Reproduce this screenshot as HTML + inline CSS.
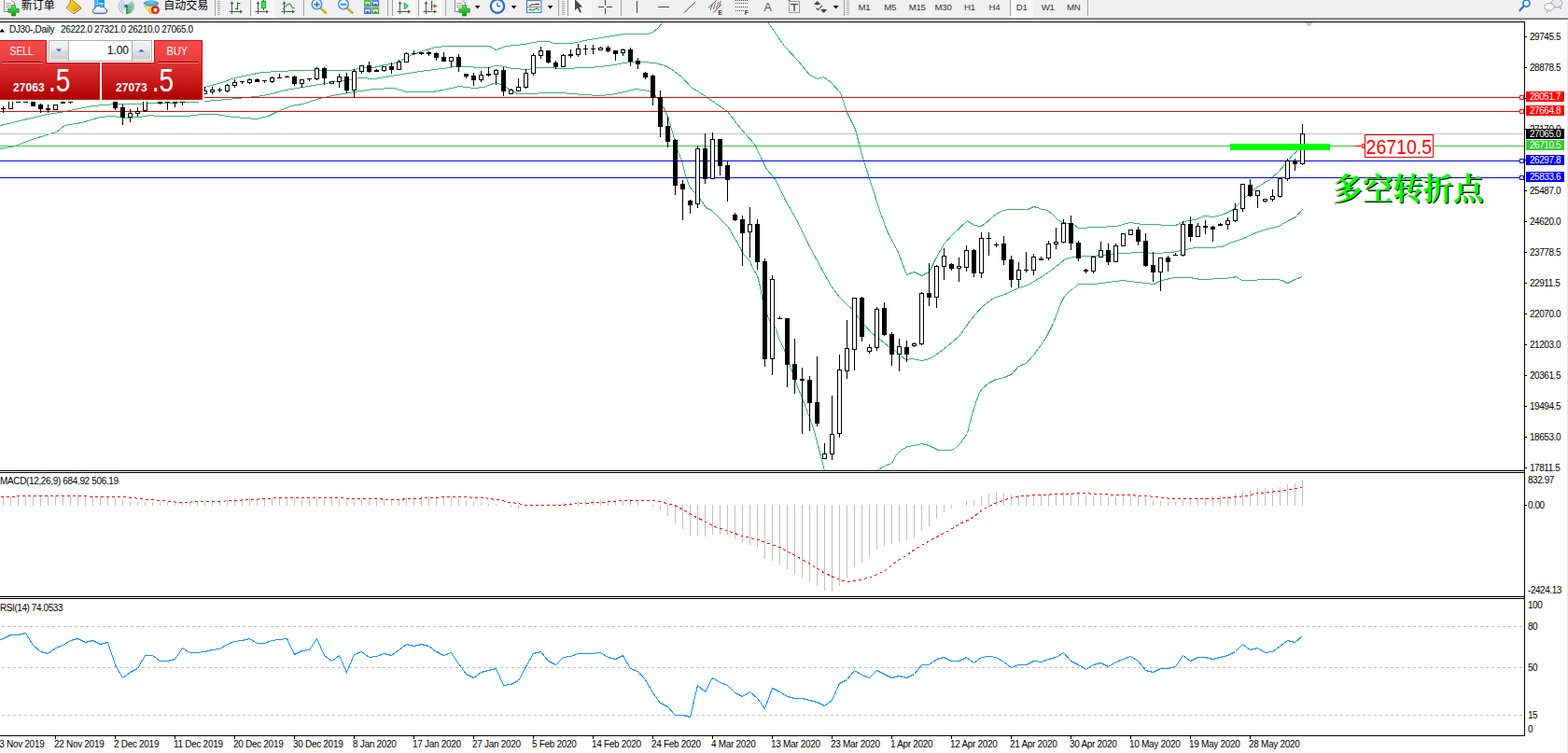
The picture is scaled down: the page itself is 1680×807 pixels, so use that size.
<!DOCTYPE html>
<html><head><meta charset="utf-8"><title>DJ30 Daily</title>
<style>
html,body{margin:0;padding:0;background:#fff;}
body{width:1680px;height:807px;overflow:hidden;position:relative;font-family:"Liberation Sans",sans-serif;}
svg text{font-family:"Liberation Sans",sans-serif;}
</style></head><body>
<svg width="1680" height="807" viewBox="0 0 1680 807" font-family="Liberation Sans, sans-serif" style="position:absolute;left:0;top:0">
<rect x="0" y="0" width="1680" height="807" fill="#fff"/>
<g shape-rendering="crispEdges">
<clipPath id="cm"><rect x="0" y="24" width="1633" height="480"/></clipPath>
<g clip-path="url(#cm)">
<polyline points="219.5,93.5 237.5,88.5 251.5,83.5 266.5,80.5 280.5,77.5 299.5,76.5 319.5,75.5 336.5,75.5 351.5,75.5 373.5,75.5 380.5,74.5 386.5,72.5 400.5,72.5 412.5,69.5 425.5,67.5 437.5,60.5 450.5,55.5 466.5,50.5 480.5,49.5 499.5,49.5 524.5,49.5 531.5,53.5 542.5,49.5 561.5,47.5 577.5,44.5 588.5,44.5 593.5,46.5 600.5,46.5 612.5,46.5 631.5,42.5 650.5,39.5 668.5,36.5 693.5,36.5 699.5,34.5 704.5,30.5 710.5,23.5" fill="none" stroke="#3cb371" stroke-width="1"/>
<polyline points="822.5,23.5 840.5,49.5 855.5,65.5 867.5,80.5 876.5,84.5 882.5,82.5 890.5,88.5 900.5,99.5 907.5,120.5 916.5,138.5 921.5,158.5 925.5,172.5 934.5,200.5 942.5,225.5 950.5,247.5 962.5,270.5 966.5,281.5 971.5,294.5 979.5,291.5 987.5,295.5 995.5,291.5 1002.5,277.5 1011.5,261.5 1020.5,251.5 1036.5,236.5 1043.5,241.5 1050.5,242.5 1054.5,240.5 1062.5,233.5 1068.5,228.5 1075.5,225.5 1080.5,224.5 1094.5,224.5 1101.5,224.5 1107.5,221.5 1111.5,222.5 1116.5,224.5 1122.5,225.5 1127.5,229.5 1133.5,235.5 1138.5,238.5 1144.5,239.5 1150.5,240.5 1155.5,244.5 1175.5,243.5 1196.5,242.5 1210.5,238.5 1224.5,240.5 1237.5,240.5 1249.5,241.5 1259.5,241.5 1268.5,237.5 1280.5,235.5 1290.5,231.5 1300.5,232.5 1311.5,229.5 1321.5,224.5 1331.5,214.5 1341.5,204.5 1350.5,198.5 1360.5,192.5 1369.5,184.5 1377.5,175.5 1384.5,166.5 1390.5,161.5 1395.5,157.5" fill="none" stroke="#3cb371" stroke-width="1"/>
<polyline points="0.5,134.5 25.5,128.5 50.5,122.5 64.5,120.5 74.5,118.5 99.5,113.5 112.5,112.5 124.5,111.5 149.5,111.5 161.5,110.5 180.5,110.5 200.5,109.5 207.5,109.5 219.5,108.5 254.5,105.5 263.5,104.5 274.5,103.5 287.5,101.5 305.5,96.5 324.5,93.5 336.5,91.5 348.5,89.5 361.5,87.5 374.5,85.5 386.5,83.5 400.5,84.5 425.5,80.5 450.5,76.5 474.5,73.5 487.5,71.5 524.5,72.5 530.5,70.5 535.5,70.5 549.5,73.5 565.5,74.5 576.5,72.5 586.5,72.5 600.5,73.5 631.5,72.5 652.5,70.5 674.5,66.5 687.5,66.5 702.5,67.5 712.5,70.5 718.5,73.5 730.5,82.5 740.5,93.5 756.5,103.5 766.5,110.5 779.5,119.5 789.5,132.5 798.5,143.5 808.5,154.5 810.5,158.5 816.5,171.5 821.5,181.5 829.5,190.5 834.5,199.5 841.5,214.5 854.5,237.5 866.5,262.5 880.5,288.5 890.5,306.5 899.5,318.5 909.5,328.5 913.5,331.5 920.5,341.5 926.5,348.5 934.5,357.5 942.5,363.5 952.5,371.5 959.5,376.5 965.5,381.5 970.5,385.5 977.5,384.5 987.5,386.5 996.5,384.5 1002.5,380.5 1014.5,371.5 1027.5,360.5 1039.5,343.5 1052.5,328.5 1064.5,319.5 1076.5,315.5 1089.5,309.5 1101.5,305.5 1106.5,302.5 1119.5,294.5 1130.5,286.5 1141.5,277.5 1150.5,275.5 1160.5,274.5 1169.5,274.5 1181.5,273.5 1200.5,271.5 1224.5,270.5 1237.5,271.5 1255.5,270.5 1265.5,268.5 1280.5,265.5 1296.5,265.5 1309.5,264.5 1320.5,259.5 1332.5,255.5 1345.5,249.5 1357.5,245.5 1370.5,242.5 1373.5,240.5 1382.5,235.5 1388.5,232.5 1395.5,224.5" fill="none" stroke="#3cb371" stroke-width="1"/>
<polyline points="0.5,159.5 16.5,156.5 31.5,150.5 50.5,144.5 60.5,141.5 69.5,134.5 87.5,131.5 107.5,125.5 119.5,124.5 136.5,126.5 149.5,125.5 161.5,123.5 168.5,124.5 186.5,124.5 200.5,124.5 216.5,122.5 231.5,122.5 250.5,125.5 274.5,127.5 287.5,124.5 297.5,119.5 312.5,113.5 324.5,111.5 342.5,105.5 361.5,101.5 374.5,99.5 386.5,97.5 400.5,95.5 422.5,94.5 435.5,98.5 450.5,98.5 462.5,98.5 474.5,96.5 492.5,92.5 507.5,94.5 518.5,93.5 531.5,88.5 540.5,92.5 548.5,97.5 554.5,100.5 600.5,99.5 625.5,101.5 641.5,102.5 654.5,101.5 669.5,98.5 680.5,95.5 689.5,96.5 698.5,98.5 704.5,105.5 710.5,114.5 715.5,124.5 717.5,131.5 721.5,145.5 726.5,162.5 730.5,172.5 734.5,187.5 738.5,199.5 741.5,203.5 745.5,207.5 751.5,215.5 756.5,222.5 762.5,225.5 772.5,235.5 780.5,243.5 785.5,252.5 792.5,264.5 796.5,272.5 803.5,279.5 806.5,287.5 811.5,295.5 814.5,307.5 817.5,323.5 823.5,341.5 830.5,350.5 834.5,362.5 841.5,377.5 846.5,392.5 851.5,405.5 854.5,414.5 859.5,426.5 867.5,447.5 872.5,462.5 876.5,477.5 879.5,489.5 883.5,504.5" fill="none" stroke="#3cb371" stroke-width="1"/>
<polyline points="939.5,504.5 947.5,499.5 955.5,496.5 960.5,487.5 965.5,482.5 972.5,478.5 980.5,477.5 987.5,475.5 995.5,477.5 1001.5,480.5 1005.5,482.5 1012.5,482.5 1018.5,482.5 1023.5,480.5 1029.5,474.5 1036.5,464.5 1039.5,451.5 1044.5,434.5 1049.5,420.5 1052.5,416.5 1059.5,410.5 1067.5,406.5 1076.5,404.5 1084.5,400.5 1091.5,392.5 1099.5,389.5 1107.5,380.5 1120.5,362.5 1128.5,346.5 1136.5,325.5 1140.5,317.5 1147.5,310.5 1150.5,309.5 1155.5,304.5 1172.5,304.5 1187.5,302.5 1202.5,300.5 1219.5,302.5 1236.5,304.5 1244.5,300.5 1258.5,297.5 1274.5,297.5 1286.5,299.5 1311.5,298.5 1320.5,297.5 1324.5,296.5 1330.5,300.5 1336.5,300.5 1342.5,300.5 1351.5,299.5 1367.5,299.5 1373.5,300.5 1379.5,303.5 1387.5,299.5 1395.5,296.5" fill="none" stroke="#3cb371" stroke-width="1"/>
</g>
<rect x="0" y="104" width="1633" height="1" fill="#ff0000"/>
<rect x="0" y="119" width="1633" height="1" fill="#ff0000"/>
<rect x="0" y="143" width="1633" height="1" fill="#c0c0c0"/>
<rect x="0" y="156" width="1633" height="1" fill="#32cd32"/>
<rect x="0" y="172" width="1633" height="1" fill="#0000ff"/>
<rect x="0" y="190" width="1633" height="1" fill="#0000ff"/>
<g clip-path="url(#cm)">
<rect x="3" y="114" width="1" height="7" fill="#000"/>
<rect x="1" y="116" width="5" height="1" fill="#000"/>
<rect x="11" y="100" width="1" height="17" fill="#000"/>
<rect x="9" y="100" width="5" height="17" fill="#000"/>
<rect x="10" y="101" width="3" height="15" fill="#fff"/>
<rect x="19" y="100" width="1" height="10" fill="#000"/>
<rect x="17" y="109" width="5" height="1" fill="#000"/>
<rect x="27" y="100" width="1" height="10" fill="#000"/>
<rect x="25" y="109" width="5" height="1" fill="#000"/>
<rect x="35" y="100" width="1" height="14" fill="#000"/>
<rect x="33" y="100" width="5" height="14" fill="#000"/>
<rect x="43" y="111" width="1" height="10" fill="#000"/>
<rect x="41" y="112" width="5" height="5" fill="#000"/>
<rect x="51" y="112" width="1" height="9" fill="#000"/>
<rect x="49" y="116" width="5" height="2" fill="#000"/>
<rect x="59" y="112" width="1" height="6" fill="#000"/>
<rect x="57" y="112" width="5" height="6" fill="#000"/>
<rect x="58" y="113" width="3" height="4" fill="#fff"/>
<rect x="67" y="100" width="1" height="11" fill="#000"/>
<rect x="65" y="109" width="5" height="2" fill="#000"/>
<rect x="75" y="100" width="1" height="11" fill="#000"/>
<rect x="73" y="109" width="5" height="1" fill="#000"/>
<rect x="123" y="100" width="1" height="18" fill="#000"/>
<rect x="121" y="100" width="5" height="16" fill="#000"/>
<rect x="131" y="112" width="1" height="22" fill="#000"/>
<rect x="129" y="115" width="5" height="11" fill="#000"/>
<rect x="139" y="117" width="1" height="14" fill="#000"/>
<rect x="137" y="121" width="5" height="5" fill="#000"/>
<rect x="138" y="122" width="3" height="3" fill="#fff"/>
<rect x="147" y="115" width="1" height="10" fill="#000"/>
<rect x="145" y="119" width="5" height="3" fill="#000"/>
<rect x="146" y="120" width="3" height="1" fill="#fff"/>
<rect x="155" y="100" width="1" height="20" fill="#000"/>
<rect x="153" y="100" width="5" height="19" fill="#000"/>
<rect x="154" y="101" width="3" height="17" fill="#fff"/>
<rect x="171" y="100" width="1" height="12" fill="#000"/>
<rect x="169" y="109" width="5" height="2" fill="#000"/>
<rect x="179" y="100" width="1" height="18" fill="#000"/>
<rect x="177" y="109" width="5" height="1" fill="#000"/>
<rect x="187" y="100" width="1" height="15" fill="#000"/>
<rect x="185" y="109" width="5" height="2" fill="#000"/>
<rect x="195" y="100" width="1" height="13" fill="#000"/>
<rect x="193" y="109" width="5" height="1" fill="#000"/>
<rect x="219" y="93" width="1" height="8" fill="#000"/>
<rect x="217" y="97" width="5" height="4" fill="#000"/>
<rect x="218" y="98" width="3" height="2" fill="#fff"/>
<rect x="227" y="93" width="1" height="8" fill="#000"/>
<rect x="225" y="96" width="5" height="3" fill="#000"/>
<rect x="226" y="97" width="3" height="1" fill="#fff"/>
<rect x="235" y="94" width="1" height="5" fill="#000"/>
<rect x="233" y="96" width="5" height="1" fill="#000"/>
<rect x="243" y="90" width="1" height="9" fill="#000"/>
<rect x="241" y="91" width="5" height="7" fill="#000"/>
<rect x="242" y="92" width="3" height="5" fill="#fff"/>
<rect x="251" y="85" width="1" height="9" fill="#000"/>
<rect x="249" y="88" width="5" height="4" fill="#000"/>
<rect x="250" y="89" width="3" height="2" fill="#fff"/>
<rect x="259" y="87" width="1" height="3" fill="#000"/>
<rect x="257" y="87" width="5" height="1" fill="#000"/>
<rect x="267" y="84" width="1" height="6" fill="#000"/>
<rect x="265" y="85" width="5" height="4" fill="#000"/>
<rect x="266" y="86" width="3" height="2" fill="#fff"/>
<rect x="275" y="84" width="1" height="4" fill="#000"/>
<rect x="273" y="85" width="5" height="3" fill="#000"/>
<rect x="283" y="86" width="1" height="3" fill="#000"/>
<rect x="281" y="86" width="5" height="1" fill="#000"/>
<rect x="291" y="82" width="1" height="7" fill="#000"/>
<rect x="289" y="83" width="5" height="5" fill="#000"/>
<rect x="290" y="84" width="3" height="3" fill="#fff"/>
<rect x="299" y="79" width="1" height="5" fill="#000"/>
<rect x="297" y="83" width="5" height="1" fill="#000"/>
<rect x="307" y="81" width="1" height="2" fill="#000"/>
<rect x="305" y="82" width="5" height="1" fill="#000"/>
<rect x="315" y="81" width="1" height="11" fill="#000"/>
<rect x="313" y="82" width="5" height="8" fill="#000"/>
<rect x="323" y="85" width="1" height="9" fill="#000"/>
<rect x="321" y="85" width="5" height="5" fill="#000"/>
<rect x="322" y="86" width="3" height="3" fill="#fff"/>
<rect x="331" y="84" width="1" height="3" fill="#000"/>
<rect x="329" y="84" width="5" height="1" fill="#000"/>
<rect x="339" y="72" width="1" height="14" fill="#000"/>
<rect x="337" y="73" width="5" height="12" fill="#000"/>
<rect x="338" y="74" width="3" height="10" fill="#fff"/>
<rect x="347" y="72" width="1" height="19" fill="#000"/>
<rect x="345" y="73" width="5" height="11" fill="#000"/>
<rect x="355" y="87" width="1" height="3" fill="#000"/>
<rect x="353" y="87" width="5" height="3" fill="#000"/>
<rect x="354" y="88" width="3" height="1" fill="#fff"/>
<rect x="363" y="79" width="1" height="15" fill="#000"/>
<rect x="361" y="82" width="5" height="6" fill="#000"/>
<rect x="362" y="83" width="3" height="4" fill="#fff"/>
<rect x="371" y="78" width="1" height="22" fill="#000"/>
<rect x="369" y="82" width="5" height="15" fill="#000"/>
<rect x="379" y="74" width="1" height="31" fill="#000"/>
<rect x="377" y="76" width="5" height="21" fill="#000"/>
<rect x="378" y="77" width="3" height="19" fill="#fff"/>
<rect x="387" y="70" width="1" height="9" fill="#000"/>
<rect x="385" y="70" width="5" height="7" fill="#000"/>
<rect x="386" y="71" width="3" height="5" fill="#fff"/>
<rect x="395" y="66" width="1" height="12" fill="#000"/>
<rect x="393" y="70" width="5" height="7" fill="#000"/>
<rect x="403" y="74" width="1" height="3" fill="#000"/>
<rect x="401" y="75" width="5" height="2" fill="#000"/>
<rect x="411" y="71" width="1" height="6" fill="#000"/>
<rect x="409" y="71" width="5" height="5" fill="#000"/>
<rect x="410" y="72" width="3" height="3" fill="#fff"/>
<rect x="419" y="67" width="1" height="12" fill="#000"/>
<rect x="417" y="71" width="5" height="4" fill="#000"/>
<rect x="427" y="64" width="1" height="11" fill="#000"/>
<rect x="425" y="66" width="5" height="9" fill="#000"/>
<rect x="426" y="67" width="3" height="7" fill="#fff"/>
<rect x="435" y="56" width="1" height="11" fill="#000"/>
<rect x="433" y="57" width="5" height="10" fill="#000"/>
<rect x="434" y="58" width="3" height="8" fill="#fff"/>
<rect x="443" y="54" width="1" height="5" fill="#000"/>
<rect x="441" y="57" width="5" height="1" fill="#000"/>
<rect x="451" y="56" width="1" height="3" fill="#000"/>
<rect x="449" y="56" width="5" height="2" fill="#000"/>
<rect x="459" y="55" width="1" height="5" fill="#000"/>
<rect x="457" y="56" width="5" height="2" fill="#000"/>
<rect x="467" y="56" width="1" height="9" fill="#000"/>
<rect x="465" y="57" width="5" height="5" fill="#000"/>
<rect x="475" y="56" width="1" height="10" fill="#000"/>
<rect x="473" y="61" width="5" height="5" fill="#000"/>
<rect x="483" y="61" width="1" height="11" fill="#000"/>
<rect x="481" y="61" width="5" height="5" fill="#000"/>
<rect x="482" y="62" width="3" height="3" fill="#fff"/>
<rect x="491" y="58" width="1" height="19" fill="#000"/>
<rect x="489" y="61" width="5" height="11" fill="#000"/>
<rect x="499" y="79" width="1" height="5" fill="#000"/>
<rect x="497" y="79" width="5" height="3" fill="#000"/>
<rect x="507" y="78" width="1" height="14" fill="#000"/>
<rect x="505" y="81" width="5" height="5" fill="#000"/>
<rect x="515" y="76" width="1" height="12" fill="#000"/>
<rect x="513" y="80" width="5" height="6" fill="#000"/>
<rect x="514" y="81" width="3" height="4" fill="#fff"/>
<rect x="523" y="72" width="1" height="10" fill="#000"/>
<rect x="521" y="79" width="5" height="2" fill="#000"/>
<rect x="531" y="74" width="1" height="17" fill="#000"/>
<rect x="529" y="75" width="5" height="5" fill="#000"/>
<rect x="530" y="76" width="3" height="3" fill="#fff"/>
<rect x="539" y="72" width="1" height="31" fill="#000"/>
<rect x="537" y="75" width="5" height="23" fill="#000"/>
<rect x="547" y="95" width="1" height="6" fill="#000"/>
<rect x="545" y="96" width="5" height="5" fill="#000"/>
<rect x="546" y="97" width="3" height="3" fill="#fff"/>
<rect x="555" y="84" width="1" height="14" fill="#000"/>
<rect x="553" y="93" width="5" height="5" fill="#000"/>
<rect x="554" y="94" width="3" height="3" fill="#fff"/>
<rect x="563" y="74" width="1" height="21" fill="#000"/>
<rect x="561" y="78" width="5" height="16" fill="#000"/>
<rect x="562" y="79" width="3" height="14" fill="#fff"/>
<rect x="571" y="57" width="1" height="24" fill="#000"/>
<rect x="569" y="59" width="5" height="20" fill="#000"/>
<rect x="570" y="60" width="3" height="18" fill="#fff"/>
<rect x="579" y="50" width="1" height="13" fill="#000"/>
<rect x="577" y="54" width="5" height="6" fill="#000"/>
<rect x="578" y="55" width="3" height="4" fill="#fff"/>
<rect x="587" y="54" width="1" height="14" fill="#000"/>
<rect x="585" y="54" width="5" height="13" fill="#000"/>
<rect x="595" y="65" width="1" height="9" fill="#000"/>
<rect x="593" y="67" width="5" height="5" fill="#000"/>
<rect x="603" y="58" width="1" height="14" fill="#000"/>
<rect x="601" y="59" width="5" height="13" fill="#000"/>
<rect x="602" y="60" width="3" height="11" fill="#fff"/>
<rect x="611" y="53" width="1" height="9" fill="#000"/>
<rect x="609" y="58" width="5" height="2" fill="#000"/>
<rect x="619" y="47" width="1" height="14" fill="#000"/>
<rect x="617" y="52" width="5" height="7" fill="#000"/>
<rect x="618" y="53" width="3" height="5" fill="#fff"/>
<rect x="627" y="48" width="1" height="11" fill="#000"/>
<rect x="625" y="52" width="5" height="1" fill="#000"/>
<rect x="635" y="48" width="1" height="10" fill="#000"/>
<rect x="633" y="52" width="5" height="1" fill="#000"/>
<rect x="643" y="50" width="1" height="4" fill="#000"/>
<rect x="641" y="51" width="5" height="3" fill="#000"/>
<rect x="642" y="52" width="3" height="1" fill="#fff"/>
<rect x="651" y="49" width="1" height="7" fill="#000"/>
<rect x="649" y="51" width="5" height="4" fill="#000"/>
<rect x="659" y="54" width="1" height="11" fill="#000"/>
<rect x="657" y="54" width="5" height="4" fill="#000"/>
<rect x="667" y="52" width="1" height="8" fill="#000"/>
<rect x="665" y="53" width="5" height="4" fill="#000"/>
<rect x="666" y="54" width="3" height="2" fill="#fff"/>
<rect x="675" y="51" width="1" height="20" fill="#000"/>
<rect x="673" y="53" width="5" height="13" fill="#000"/>
<rect x="683" y="62" width="1" height="12" fill="#000"/>
<rect x="681" y="65" width="5" height="4" fill="#000"/>
<rect x="691" y="77" width="1" height="8" fill="#000"/>
<rect x="689" y="78" width="5" height="5" fill="#000"/>
<rect x="699" y="80" width="1" height="33" fill="#000"/>
<rect x="697" y="81" width="5" height="24" fill="#000"/>
<rect x="707" y="97" width="1" height="50" fill="#000"/>
<rect x="705" y="104" width="5" height="32" fill="#000"/>
<rect x="715" y="125" width="1" height="33" fill="#000"/>
<rect x="713" y="135" width="5" height="17" fill="#000"/>
<rect x="723" y="149" width="1" height="60" fill="#000"/>
<rect x="721" y="150" width="5" height="49" fill="#000"/>
<rect x="731" y="193" width="1" height="43" fill="#000"/>
<rect x="729" y="197" width="5" height="6" fill="#000"/>
<rect x="739" y="214" width="1" height="15" fill="#000"/>
<rect x="737" y="215" width="5" height="5" fill="#000"/>
<rect x="747" y="156" width="1" height="67" fill="#000"/>
<rect x="745" y="159" width="5" height="60" fill="#000"/>
<rect x="746" y="160" width="3" height="58" fill="#fff"/>
<rect x="755" y="143" width="1" height="54" fill="#000"/>
<rect x="753" y="159" width="5" height="33" fill="#000"/>
<rect x="763" y="142" width="1" height="50" fill="#000"/>
<rect x="761" y="149" width="5" height="43" fill="#000"/>
<rect x="762" y="150" width="3" height="41" fill="#fff"/>
<rect x="771" y="149" width="1" height="39" fill="#000"/>
<rect x="769" y="149" width="5" height="29" fill="#000"/>
<rect x="779" y="173" width="1" height="43" fill="#000"/>
<rect x="777" y="177" width="5" height="16" fill="#000"/>
<rect x="787" y="228" width="1" height="9" fill="#000"/>
<rect x="785" y="230" width="5" height="6" fill="#000"/>
<rect x="795" y="231" width="1" height="54" fill="#000"/>
<rect x="793" y="235" width="5" height="15" fill="#000"/>
<rect x="803" y="222" width="1" height="54" fill="#000"/>
<rect x="801" y="240" width="5" height="9" fill="#000"/>
<rect x="802" y="241" width="3" height="7" fill="#fff"/>
<rect x="811" y="235" width="1" height="54" fill="#000"/>
<rect x="809" y="240" width="5" height="41" fill="#000"/>
<rect x="819" y="277" width="1" height="116" fill="#000"/>
<rect x="817" y="280" width="5" height="105" fill="#000"/>
<rect x="827" y="295" width="1" height="107" fill="#000"/>
<rect x="825" y="299" width="5" height="86" fill="#000"/>
<rect x="826" y="300" width="3" height="84" fill="#fff"/>
<rect x="835" y="339" width="1" height="3" fill="#000"/>
<rect x="833" y="341" width="5" height="1" fill="#000"/>
<rect x="843" y="341" width="1" height="74" fill="#000"/>
<rect x="841" y="341" width="5" height="50" fill="#000"/>
<rect x="851" y="363" width="1" height="59" fill="#000"/>
<rect x="849" y="390" width="5" height="17" fill="#000"/>
<rect x="859" y="394" width="1" height="71" fill="#000"/>
<rect x="857" y="406" width="5" height="2" fill="#000"/>
<rect x="867" y="403" width="1" height="59" fill="#000"/>
<rect x="865" y="407" width="5" height="25" fill="#000"/>
<rect x="875" y="382" width="1" height="75" fill="#000"/>
<rect x="873" y="431" width="5" height="23" fill="#000"/>
<rect x="883" y="475" width="1" height="17" fill="#000"/>
<rect x="881" y="486" width="5" height="6" fill="#000"/>
<rect x="882" y="487" width="3" height="4" fill="#fff"/>
<rect x="891" y="424" width="1" height="69" fill="#000"/>
<rect x="889" y="465" width="5" height="22" fill="#000"/>
<rect x="890" y="466" width="3" height="20" fill="#fff"/>
<rect x="899" y="380" width="1" height="89" fill="#000"/>
<rect x="897" y="396" width="5" height="69" fill="#000"/>
<rect x="898" y="397" width="3" height="67" fill="#fff"/>
<rect x="907" y="343" width="1" height="63" fill="#000"/>
<rect x="905" y="373" width="5" height="25" fill="#000"/>
<rect x="906" y="374" width="3" height="23" fill="#fff"/>
<rect x="915" y="319" width="1" height="78" fill="#000"/>
<rect x="913" y="319" width="5" height="56" fill="#000"/>
<rect x="914" y="320" width="3" height="54" fill="#fff"/>
<rect x="923" y="318" width="1" height="48" fill="#000"/>
<rect x="921" y="319" width="5" height="42" fill="#000"/>
<rect x="931" y="369" width="1" height="10" fill="#000"/>
<rect x="929" y="372" width="5" height="5" fill="#000"/>
<rect x="930" y="373" width="3" height="3" fill="#fff"/>
<rect x="939" y="329" width="1" height="47" fill="#000"/>
<rect x="937" y="331" width="5" height="42" fill="#000"/>
<rect x="938" y="332" width="3" height="40" fill="#fff"/>
<rect x="947" y="324" width="1" height="36" fill="#000"/>
<rect x="945" y="330" width="5" height="29" fill="#000"/>
<rect x="955" y="356" width="1" height="36" fill="#000"/>
<rect x="953" y="358" width="5" height="22" fill="#000"/>
<rect x="963" y="363" width="1" height="35" fill="#000"/>
<rect x="961" y="371" width="5" height="9" fill="#000"/>
<rect x="962" y="372" width="3" height="7" fill="#fff"/>
<rect x="971" y="365" width="1" height="23" fill="#000"/>
<rect x="969" y="372" width="5" height="8" fill="#000"/>
<rect x="979" y="367" width="1" height="5" fill="#000"/>
<rect x="977" y="368" width="5" height="3" fill="#000"/>
<rect x="978" y="369" width="3" height="1" fill="#fff"/>
<rect x="987" y="313" width="1" height="57" fill="#000"/>
<rect x="985" y="314" width="5" height="55" fill="#000"/>
<rect x="986" y="315" width="3" height="53" fill="#fff"/>
<rect x="995" y="282" width="1" height="46" fill="#000"/>
<rect x="993" y="314" width="5" height="5" fill="#000"/>
<rect x="1003" y="284" width="1" height="46" fill="#000"/>
<rect x="1001" y="285" width="5" height="34" fill="#000"/>
<rect x="1002" y="286" width="3" height="32" fill="#fff"/>
<rect x="1011" y="266" width="1" height="34" fill="#000"/>
<rect x="1009" y="274" width="5" height="12" fill="#000"/>
<rect x="1010" y="275" width="3" height="10" fill="#fff"/>
<rect x="1019" y="282" width="1" height="8" fill="#000"/>
<rect x="1017" y="283" width="5" height="5" fill="#000"/>
<rect x="1027" y="276" width="1" height="26" fill="#000"/>
<rect x="1025" y="285" width="5" height="3" fill="#000"/>
<rect x="1026" y="286" width="3" height="1" fill="#fff"/>
<rect x="1035" y="263" width="1" height="28" fill="#000"/>
<rect x="1033" y="268" width="5" height="19" fill="#000"/>
<rect x="1034" y="269" width="3" height="17" fill="#fff"/>
<rect x="1043" y="267" width="1" height="30" fill="#000"/>
<rect x="1041" y="268" width="5" height="25" fill="#000"/>
<rect x="1051" y="249" width="1" height="49" fill="#000"/>
<rect x="1049" y="255" width="5" height="38" fill="#000"/>
<rect x="1050" y="256" width="3" height="36" fill="#fff"/>
<rect x="1059" y="249" width="1" height="25" fill="#000"/>
<rect x="1057" y="255" width="5" height="1" fill="#000"/>
<rect x="1067" y="260" width="1" height="5" fill="#000"/>
<rect x="1065" y="262" width="5" height="1" fill="#000"/>
<rect x="1075" y="253" width="1" height="31" fill="#000"/>
<rect x="1073" y="261" width="5" height="18" fill="#000"/>
<rect x="1083" y="274" width="1" height="34" fill="#000"/>
<rect x="1081" y="278" width="5" height="22" fill="#000"/>
<rect x="1091" y="281" width="1" height="27" fill="#000"/>
<rect x="1089" y="289" width="5" height="11" fill="#000"/>
<rect x="1090" y="290" width="3" height="9" fill="#fff"/>
<rect x="1099" y="270" width="1" height="22" fill="#000"/>
<rect x="1097" y="289" width="5" height="1" fill="#000"/>
<rect x="1107" y="272" width="1" height="23" fill="#000"/>
<rect x="1105" y="275" width="5" height="15" fill="#000"/>
<rect x="1106" y="276" width="3" height="13" fill="#fff"/>
<rect x="1115" y="275" width="1" height="4" fill="#000"/>
<rect x="1113" y="277" width="5" height="2" fill="#000"/>
<rect x="1123" y="258" width="1" height="21" fill="#000"/>
<rect x="1121" y="261" width="5" height="16" fill="#000"/>
<rect x="1122" y="262" width="3" height="14" fill="#fff"/>
<rect x="1131" y="244" width="1" height="23" fill="#000"/>
<rect x="1129" y="259" width="5" height="3" fill="#000"/>
<rect x="1130" y="260" width="3" height="1" fill="#fff"/>
<rect x="1139" y="235" width="1" height="26" fill="#000"/>
<rect x="1137" y="239" width="5" height="21" fill="#000"/>
<rect x="1138" y="240" width="3" height="19" fill="#fff"/>
<rect x="1147" y="231" width="1" height="37" fill="#000"/>
<rect x="1145" y="239" width="5" height="22" fill="#000"/>
<rect x="1155" y="258" width="1" height="22" fill="#000"/>
<rect x="1153" y="260" width="5" height="17" fill="#000"/>
<rect x="1163" y="288" width="1" height="5" fill="#000"/>
<rect x="1161" y="289" width="5" height="2" fill="#000"/>
<rect x="1171" y="274" width="1" height="19" fill="#000"/>
<rect x="1169" y="275" width="5" height="16" fill="#000"/>
<rect x="1170" y="276" width="3" height="14" fill="#fff"/>
<rect x="1179" y="259" width="1" height="17" fill="#000"/>
<rect x="1177" y="268" width="5" height="8" fill="#000"/>
<rect x="1178" y="269" width="3" height="6" fill="#fff"/>
<rect x="1187" y="261" width="1" height="23" fill="#000"/>
<rect x="1185" y="268" width="5" height="13" fill="#000"/>
<rect x="1195" y="261" width="1" height="20" fill="#000"/>
<rect x="1193" y="263" width="5" height="18" fill="#000"/>
<rect x="1194" y="264" width="3" height="16" fill="#fff"/>
<rect x="1203" y="250" width="1" height="14" fill="#000"/>
<rect x="1201" y="250" width="5" height="14" fill="#000"/>
<rect x="1202" y="251" width="3" height="12" fill="#fff"/>
<rect x="1211" y="246" width="1" height="6" fill="#000"/>
<rect x="1209" y="246" width="5" height="6" fill="#000"/>
<rect x="1210" y="247" width="3" height="4" fill="#fff"/>
<rect x="1219" y="243" width="1" height="20" fill="#000"/>
<rect x="1217" y="246" width="5" height="13" fill="#000"/>
<rect x="1227" y="250" width="1" height="36" fill="#000"/>
<rect x="1225" y="258" width="5" height="27" fill="#000"/>
<rect x="1235" y="270" width="1" height="32" fill="#000"/>
<rect x="1233" y="284" width="5" height="8" fill="#000"/>
<rect x="1243" y="276" width="1" height="36" fill="#000"/>
<rect x="1241" y="276" width="5" height="16" fill="#000"/>
<rect x="1242" y="277" width="3" height="14" fill="#fff"/>
<rect x="1251" y="274" width="1" height="17" fill="#000"/>
<rect x="1249" y="276" width="5" height="5" fill="#000"/>
<rect x="1259" y="271" width="1" height="3" fill="#000"/>
<rect x="1257" y="273" width="5" height="1" fill="#000"/>
<rect x="1267" y="237" width="1" height="38" fill="#000"/>
<rect x="1265" y="240" width="5" height="34" fill="#000"/>
<rect x="1266" y="241" width="3" height="32" fill="#fff"/>
<rect x="1275" y="232" width="1" height="27" fill="#000"/>
<rect x="1273" y="240" width="5" height="14" fill="#000"/>
<rect x="1283" y="239" width="1" height="15" fill="#000"/>
<rect x="1281" y="242" width="5" height="12" fill="#000"/>
<rect x="1282" y="243" width="3" height="10" fill="#fff"/>
<rect x="1291" y="236" width="1" height="15" fill="#000"/>
<rect x="1289" y="242" width="5" height="2" fill="#000"/>
<rect x="1299" y="242" width="1" height="17" fill="#000"/>
<rect x="1297" y="243" width="5" height="3" fill="#000"/>
<rect x="1307" y="239" width="1" height="3" fill="#000"/>
<rect x="1305" y="240" width="5" height="2" fill="#000"/>
<rect x="1315" y="233" width="1" height="13" fill="#000"/>
<rect x="1313" y="236" width="5" height="5" fill="#000"/>
<rect x="1314" y="237" width="3" height="3" fill="#fff"/>
<rect x="1323" y="218" width="1" height="20" fill="#000"/>
<rect x="1321" y="224" width="5" height="13" fill="#000"/>
<rect x="1322" y="225" width="3" height="11" fill="#fff"/>
<rect x="1331" y="197" width="1" height="30" fill="#000"/>
<rect x="1329" y="197" width="5" height="27" fill="#000"/>
<rect x="1330" y="198" width="3" height="25" fill="#fff"/>
<rect x="1339" y="192" width="1" height="19" fill="#000"/>
<rect x="1337" y="198" width="5" height="12" fill="#000"/>
<rect x="1347" y="204" width="1" height="19" fill="#000"/>
<rect x="1345" y="204" width="5" height="6" fill="#000"/>
<rect x="1346" y="205" width="3" height="4" fill="#fff"/>
<rect x="1355" y="213" width="1" height="4" fill="#000"/>
<rect x="1353" y="213" width="5" height="3" fill="#000"/>
<rect x="1354" y="214" width="3" height="1" fill="#fff"/>
<rect x="1363" y="203" width="1" height="13" fill="#000"/>
<rect x="1361" y="210" width="5" height="4" fill="#000"/>
<rect x="1362" y="211" width="3" height="2" fill="#fff"/>
<rect x="1371" y="191" width="1" height="21" fill="#000"/>
<rect x="1369" y="191" width="5" height="20" fill="#000"/>
<rect x="1370" y="192" width="3" height="18" fill="#fff"/>
<rect x="1379" y="170" width="1" height="24" fill="#000"/>
<rect x="1377" y="172" width="5" height="20" fill="#000"/>
<rect x="1378" y="173" width="3" height="18" fill="#fff"/>
<rect x="1387" y="170" width="1" height="13" fill="#000"/>
<rect x="1385" y="172" width="5" height="4" fill="#000"/>
<rect x="1395" y="133" width="1" height="44" fill="#000"/>
<rect x="1393" y="143" width="5" height="33" fill="#000"/>
<rect x="1394" y="144" width="3" height="31" fill="#fff"/>
</g>
<rect x="1318" y="154" width="107" height="7" fill="#00ff00"/>
<polygon points="1398,24 1407,24 1402.5,28.5" fill="#c0c0c0" shape-rendering="geometricPrecision"/>
<rect x="0" y="23" width="1634" height="1" fill="#000"/>
<rect x="1633" y="23" width="1" height="766" fill="#000"/>
<rect x="0" y="504" width="1634" height="1" fill="#000"/>
<rect x="0" y="506" width="1634" height="1" fill="#000"/>
<rect x="0" y="639" width="1634" height="1" fill="#000"/>
<rect x="0" y="641" width="1634" height="1" fill="#000"/>
<rect x="0" y="788" width="1634" height="1" fill="#000"/>
<rect x="1678" y="21" width="1" height="786" fill="#fafafa"/>
<rect x="1679" y="21" width="1" height="786" fill="#e6e6e6"/>
<rect x="1634" y="39" width="2" height="1" fill="#000"/>
<rect x="1634" y="72" width="2" height="1" fill="#000"/>
<rect x="1634" y="138" width="2" height="1" fill="#000"/>
<rect x="1634" y="204" width="2" height="1" fill="#000"/>
<rect x="1634" y="237" width="2" height="1" fill="#000"/>
<rect x="1634" y="270" width="2" height="1" fill="#000"/>
<rect x="1634" y="303" width="2" height="1" fill="#000"/>
<rect x="1634" y="336" width="2" height="1" fill="#000"/>
<rect x="1634" y="369" width="2" height="1" fill="#000"/>
<rect x="1634" y="402" width="2" height="1" fill="#000"/>
<rect x="1634" y="435" width="2" height="1" fill="#000"/>
<rect x="1634" y="468" width="2" height="1" fill="#000"/>
<rect x="1634" y="501" width="2" height="1" fill="#000"/>
<rect x="1634" y="105" width="2" height="1" fill="#000"/>
<rect x="1634" y="171" width="2" height="1" fill="#000"/>
</g>
<text x="1639" y="43" font-size="10" fill="#000" letter-spacing="-0.45">29745.5</text>
<text x="1639" y="76" font-size="10" fill="#000" letter-spacing="-0.45">28878.5</text>
<text x="1639" y="142" font-size="10" fill="#000" letter-spacing="-0.45">27170.0</text>
<text x="1639" y="208" font-size="10" fill="#000" letter-spacing="-0.45">25487.0</text>
<text x="1639" y="241" font-size="10" fill="#000" letter-spacing="-0.45">24620.0</text>
<text x="1639" y="274" font-size="10" fill="#000" letter-spacing="-0.45">23778.5</text>
<text x="1639" y="307" font-size="10" fill="#000" letter-spacing="-0.45">22911.5</text>
<text x="1639" y="340" font-size="10" fill="#000" letter-spacing="-0.45">22070.0</text>
<text x="1639" y="373" font-size="10" fill="#000" letter-spacing="-0.45">21203.0</text>
<text x="1639" y="406" font-size="10" fill="#000" letter-spacing="-0.45">20361.5</text>
<text x="1639" y="439" font-size="10" fill="#000" letter-spacing="-0.45">19494.5</text>
<text x="1639" y="472" font-size="10" fill="#000" letter-spacing="-0.45">18653.0</text>
<text x="1639" y="505" font-size="10" fill="#000" letter-spacing="-0.45">17811.5</text>
<g shape-rendering="crispEdges">
<rect x="1635" y="98" width="41" height="11" fill="#ff0000"/>
<rect x="1628" y="102" width="5" height="5" fill="#ff0000"/>
<rect x="1629" y="103" width="3" height="3" fill="#fff"/>
</g>
<text x="1639" y="107.1" font-size="10" fill="#fff" letter-spacing="-0.45">28051.7</text>
<g shape-rendering="crispEdges">
<rect x="1635" y="113" width="41" height="11" fill="#ff0000"/>
<rect x="1628" y="117" width="5" height="5" fill="#ff0000"/>
<rect x="1629" y="118" width="3" height="3" fill="#fff"/>
</g>
<text x="1639" y="122.1" font-size="10" fill="#fff" letter-spacing="-0.45">27664.8</text>
<g shape-rendering="crispEdges">
<rect x="1635" y="138" width="41" height="11" fill="#000"/>
</g>
<text x="1639" y="147.1" font-size="10" fill="#fff" letter-spacing="-0.45">27065.0</text>
<g shape-rendering="crispEdges">
<rect x="1635" y="150" width="41" height="11" fill="#32cd32"/>
</g>
<text x="1639" y="159.1" font-size="10" fill="#fff" letter-spacing="-0.45">26710.5</text>
<g shape-rendering="crispEdges">
<rect x="1635" y="166" width="41" height="11" fill="#0000ff"/>
<rect x="1628" y="170" width="5" height="5" fill="#0000ff"/>
<rect x="1629" y="171" width="3" height="3" fill="#fff"/>
</g>
<text x="1639" y="175.1" font-size="10" fill="#fff" letter-spacing="-0.45">26297.8</text>
<g shape-rendering="crispEdges">
<rect x="1635" y="184" width="41" height="11" fill="#0000ff"/>
<rect x="1628" y="188" width="5" height="5" fill="#0000ff"/>
<rect x="1629" y="189" width="3" height="3" fill="#fff"/>
</g>
<text x="1639" y="193.1" font-size="10" fill="#fff" letter-spacing="-0.45">25833.6</text>
<g shape-rendering="crispEdges">
<rect x="1452" y="156" width="7" height="1" fill="#ff0000"/>
<rect x="1459" y="154" width="3" height="5" fill="#ff0000"/>
<rect x="1460" y="155" width="1" height="3" fill="#fff"/>
<rect x="1462" y="144" width="74" height="25" fill="#ff0000"/>
<rect x="1463" y="145" width="72" height="23" fill="#fff"/>
</g>
<g transform="translate(1463.6,164.8) scale(0.866,1)"><text x="0" y="0" font-size="22.5" fill="#ff0000">26710.5</text></g>
<text x="1428.6" y="214.6" font-size="32.4" font-weight="bold" fill="#000" style="font-family:'Liberation Serif','Noto Serif CJK SC',serif">多空转折点</text>
<text x="1427.5" y="213.5" font-size="32.4" font-weight="bold" fill="#00ff00" style="font-family:'Liberation Serif','Noto Serif CJK SC',serif">多空转折点</text>
<polygon points="-0.5,34.5 5,34.5 2.2,30.8" fill="#000"/>
<text x="10" y="35" font-size="10" fill="#000" letter-spacing="-0.31">DJ30-,Daily</text>
<text x="65" y="35" font-size="10" fill="#000" letter-spacing="-0.36">26222.0 27321.0 26210.0 27065.0</text>
<g shape-rendering="crispEdges">
<rect x="3" y="532" width="1" height="10" fill="#c0c0c0"/>
<rect x="11" y="532" width="1" height="10" fill="#c0c0c0"/>
<rect x="19" y="531" width="1" height="11" fill="#c0c0c0"/>
<rect x="27" y="531" width="1" height="11" fill="#c0c0c0"/>
<rect x="35" y="531" width="1" height="11" fill="#c0c0c0"/>
<rect x="43" y="531" width="1" height="11" fill="#c0c0c0"/>
<rect x="51" y="531" width="1" height="11" fill="#c0c0c0"/>
<rect x="59" y="531" width="1" height="11" fill="#c0c0c0"/>
<rect x="67" y="531" width="1" height="11" fill="#c0c0c0"/>
<rect x="75" y="531" width="1" height="11" fill="#c0c0c0"/>
<rect x="83" y="531" width="1" height="11" fill="#c0c0c0"/>
<rect x="91" y="531" width="1" height="11" fill="#c0c0c0"/>
<rect x="99" y="532" width="1" height="10" fill="#c0c0c0"/>
<rect x="107" y="532" width="1" height="10" fill="#c0c0c0"/>
<rect x="115" y="532" width="1" height="10" fill="#c0c0c0"/>
<rect x="123" y="534" width="1" height="8" fill="#c0c0c0"/>
<rect x="131" y="536" width="1" height="6" fill="#c0c0c0"/>
<rect x="139" y="538" width="1" height="4" fill="#c0c0c0"/>
<rect x="147" y="538" width="1" height="4" fill="#c0c0c0"/>
<rect x="155" y="538" width="1" height="4" fill="#c0c0c0"/>
<rect x="163" y="538" width="1" height="4" fill="#c0c0c0"/>
<rect x="171" y="538" width="1" height="4" fill="#c0c0c0"/>
<rect x="179" y="538" width="1" height="4" fill="#c0c0c0"/>
<rect x="187" y="537" width="1" height="5" fill="#c0c0c0"/>
<rect x="195" y="538" width="1" height="4" fill="#c0c0c0"/>
<rect x="203" y="538" width="1" height="4" fill="#c0c0c0"/>
<rect x="211" y="537" width="1" height="5" fill="#c0c0c0"/>
<rect x="219" y="537" width="1" height="5" fill="#c0c0c0"/>
<rect x="227" y="536" width="1" height="6" fill="#c0c0c0"/>
<rect x="235" y="536" width="1" height="6" fill="#c0c0c0"/>
<rect x="243" y="536" width="1" height="6" fill="#c0c0c0"/>
<rect x="251" y="535" width="1" height="7" fill="#c0c0c0"/>
<rect x="259" y="535" width="1" height="7" fill="#c0c0c0"/>
<rect x="267" y="534" width="1" height="8" fill="#c0c0c0"/>
<rect x="275" y="534" width="1" height="8" fill="#c0c0c0"/>
<rect x="283" y="534" width="1" height="8" fill="#c0c0c0"/>
<rect x="291" y="534" width="1" height="8" fill="#c0c0c0"/>
<rect x="299" y="534" width="1" height="8" fill="#c0c0c0"/>
<rect x="307" y="533" width="1" height="9" fill="#c0c0c0"/>
<rect x="315" y="533" width="1" height="9" fill="#c0c0c0"/>
<rect x="323" y="535" width="1" height="7" fill="#c0c0c0"/>
<rect x="331" y="535" width="1" height="7" fill="#c0c0c0"/>
<rect x="339" y="533" width="1" height="9" fill="#c0c0c0"/>
<rect x="347" y="535" width="1" height="7" fill="#c0c0c0"/>
<rect x="355" y="535" width="1" height="7" fill="#c0c0c0"/>
<rect x="363" y="535" width="1" height="7" fill="#c0c0c0"/>
<rect x="371" y="537" width="1" height="5" fill="#c0c0c0"/>
<rect x="379" y="536" width="1" height="6" fill="#c0c0c0"/>
<rect x="387" y="535" width="1" height="7" fill="#c0c0c0"/>
<rect x="395" y="536" width="1" height="6" fill="#c0c0c0"/>
<rect x="403" y="536" width="1" height="6" fill="#c0c0c0"/>
<rect x="411" y="535" width="1" height="7" fill="#c0c0c0"/>
<rect x="419" y="536" width="1" height="6" fill="#c0c0c0"/>
<rect x="427" y="535" width="1" height="7" fill="#c0c0c0"/>
<rect x="435" y="533" width="1" height="9" fill="#c0c0c0"/>
<rect x="443" y="532" width="1" height="10" fill="#c0c0c0"/>
<rect x="451" y="532" width="1" height="10" fill="#c0c0c0"/>
<rect x="459" y="532" width="1" height="10" fill="#c0c0c0"/>
<rect x="467" y="532" width="1" height="10" fill="#c0c0c0"/>
<rect x="475" y="533" width="1" height="9" fill="#c0c0c0"/>
<rect x="483" y="533" width="1" height="9" fill="#c0c0c0"/>
<rect x="491" y="534" width="1" height="8" fill="#c0c0c0"/>
<rect x="499" y="536" width="1" height="6" fill="#c0c0c0"/>
<rect x="507" y="538" width="1" height="4" fill="#c0c0c0"/>
<rect x="515" y="539" width="1" height="3" fill="#c0c0c0"/>
<rect x="523" y="540" width="1" height="2" fill="#c0c0c0"/>
<rect x="531" y="540" width="1" height="2" fill="#c0c0c0"/>
<rect x="547" y="541" width="1" height="3" fill="#c0c0c0"/>
<rect x="555" y="541" width="1" height="4" fill="#c0c0c0"/>
<rect x="563" y="541" width="1" height="3" fill="#c0c0c0"/>
<rect x="579" y="540" width="1" height="2" fill="#c0c0c0"/>
<rect x="587" y="540" width="1" height="2" fill="#c0c0c0"/>
<rect x="595" y="540" width="1" height="2" fill="#c0c0c0"/>
<rect x="603" y="539" width="1" height="3" fill="#c0c0c0"/>
<rect x="611" y="538" width="1" height="4" fill="#c0c0c0"/>
<rect x="619" y="537" width="1" height="5" fill="#c0c0c0"/>
<rect x="627" y="536" width="1" height="6" fill="#c0c0c0"/>
<rect x="635" y="535" width="1" height="7" fill="#c0c0c0"/>
<rect x="643" y="535" width="1" height="7" fill="#c0c0c0"/>
<rect x="651" y="535" width="1" height="7" fill="#c0c0c0"/>
<rect x="659" y="535" width="1" height="7" fill="#c0c0c0"/>
<rect x="667" y="536" width="1" height="6" fill="#c0c0c0"/>
<rect x="675" y="536" width="1" height="6" fill="#c0c0c0"/>
<rect x="683" y="537" width="1" height="5" fill="#c0c0c0"/>
<rect x="699" y="541" width="1" height="2" fill="#c0c0c0"/>
<rect x="707" y="541" width="1" height="6" fill="#c0c0c0"/>
<rect x="715" y="541" width="1" height="12" fill="#c0c0c0"/>
<rect x="723" y="541" width="1" height="20" fill="#c0c0c0"/>
<rect x="731" y="541" width="1" height="26" fill="#c0c0c0"/>
<rect x="739" y="541" width="1" height="33" fill="#c0c0c0"/>
<rect x="747" y="541" width="1" height="33" fill="#c0c0c0"/>
<rect x="755" y="541" width="1" height="34" fill="#c0c0c0"/>
<rect x="763" y="541" width="1" height="32" fill="#c0c0c0"/>
<rect x="771" y="541" width="1" height="32" fill="#c0c0c0"/>
<rect x="779" y="541" width="1" height="32" fill="#c0c0c0"/>
<rect x="787" y="541" width="1" height="37" fill="#c0c0c0"/>
<rect x="795" y="541" width="1" height="40" fill="#c0c0c0"/>
<rect x="803" y="541" width="1" height="43" fill="#c0c0c0"/>
<rect x="811" y="541" width="1" height="46" fill="#c0c0c0"/>
<rect x="819" y="541" width="1" height="58" fill="#c0c0c0"/>
<rect x="827" y="541" width="1" height="60" fill="#c0c0c0"/>
<rect x="835" y="541" width="1" height="64" fill="#c0c0c0"/>
<rect x="843" y="541" width="1" height="69" fill="#c0c0c0"/>
<rect x="851" y="541" width="1" height="75" fill="#c0c0c0"/>
<rect x="859" y="541" width="1" height="78" fill="#c0c0c0"/>
<rect x="867" y="541" width="1" height="83" fill="#c0c0c0"/>
<rect x="875" y="541" width="1" height="87" fill="#c0c0c0"/>
<rect x="883" y="541" width="1" height="92" fill="#c0c0c0"/>
<rect x="891" y="541" width="1" height="93" fill="#c0c0c0"/>
<rect x="899" y="541" width="1" height="87" fill="#c0c0c0"/>
<rect x="907" y="541" width="1" height="78" fill="#c0c0c0"/>
<rect x="915" y="541" width="1" height="67" fill="#c0c0c0"/>
<rect x="923" y="541" width="1" height="62" fill="#c0c0c0"/>
<rect x="931" y="541" width="1" height="56" fill="#c0c0c0"/>
<rect x="939" y="541" width="1" height="48" fill="#c0c0c0"/>
<rect x="947" y="541" width="1" height="44" fill="#c0c0c0"/>
<rect x="955" y="541" width="1" height="42" fill="#c0c0c0"/>
<rect x="963" y="541" width="1" height="40" fill="#c0c0c0"/>
<rect x="971" y="541" width="1" height="38" fill="#c0c0c0"/>
<rect x="979" y="541" width="1" height="35" fill="#c0c0c0"/>
<rect x="987" y="541" width="1" height="28" fill="#c0c0c0"/>
<rect x="995" y="541" width="1" height="23" fill="#c0c0c0"/>
<rect x="1003" y="541" width="1" height="15" fill="#c0c0c0"/>
<rect x="1011" y="541" width="1" height="8" fill="#c0c0c0"/>
<rect x="1019" y="541" width="1" height="4" fill="#c0c0c0"/>
<rect x="1035" y="537" width="1" height="5" fill="#c0c0c0"/>
<rect x="1043" y="536" width="1" height="6" fill="#c0c0c0"/>
<rect x="1051" y="532" width="1" height="10" fill="#c0c0c0"/>
<rect x="1059" y="529" width="1" height="13" fill="#c0c0c0"/>
<rect x="1067" y="527" width="1" height="15" fill="#c0c0c0"/>
<rect x="1075" y="528" width="1" height="14" fill="#c0c0c0"/>
<rect x="1083" y="530" width="1" height="12" fill="#c0c0c0"/>
<rect x="1091" y="531" width="1" height="11" fill="#c0c0c0"/>
<rect x="1099" y="530" width="1" height="12" fill="#c0c0c0"/>
<rect x="1107" y="530" width="1" height="12" fill="#c0c0c0"/>
<rect x="1115" y="530" width="1" height="12" fill="#c0c0c0"/>
<rect x="1123" y="529" width="1" height="13" fill="#c0c0c0"/>
<rect x="1131" y="528" width="1" height="14" fill="#c0c0c0"/>
<rect x="1139" y="527" width="1" height="15" fill="#c0c0c0"/>
<rect x="1147" y="527" width="1" height="15" fill="#c0c0c0"/>
<rect x="1155" y="528" width="1" height="14" fill="#c0c0c0"/>
<rect x="1163" y="531" width="1" height="11" fill="#c0c0c0"/>
<rect x="1171" y="532" width="1" height="10" fill="#c0c0c0"/>
<rect x="1179" y="532" width="1" height="10" fill="#c0c0c0"/>
<rect x="1187" y="533" width="1" height="9" fill="#c0c0c0"/>
<rect x="1195" y="533" width="1" height="9" fill="#c0c0c0"/>
<rect x="1203" y="532" width="1" height="10" fill="#c0c0c0"/>
<rect x="1211" y="531" width="1" height="11" fill="#c0c0c0"/>
<rect x="1219" y="531" width="1" height="11" fill="#c0c0c0"/>
<rect x="1227" y="533" width="1" height="9" fill="#c0c0c0"/>
<rect x="1235" y="536" width="1" height="6" fill="#c0c0c0"/>
<rect x="1243" y="537" width="1" height="5" fill="#c0c0c0"/>
<rect x="1251" y="538" width="1" height="4" fill="#c0c0c0"/>
<rect x="1259" y="538" width="1" height="4" fill="#c0c0c0"/>
<rect x="1267" y="536" width="1" height="6" fill="#c0c0c0"/>
<rect x="1275" y="535" width="1" height="7" fill="#c0c0c0"/>
<rect x="1283" y="534" width="1" height="8" fill="#c0c0c0"/>
<rect x="1291" y="533" width="1" height="9" fill="#c0c0c0"/>
<rect x="1299" y="532" width="1" height="10" fill="#c0c0c0"/>
<rect x="1307" y="531" width="1" height="11" fill="#c0c0c0"/>
<rect x="1315" y="531" width="1" height="11" fill="#c0c0c0"/>
<rect x="1323" y="529" width="1" height="13" fill="#c0c0c0"/>
<rect x="1331" y="526" width="1" height="16" fill="#c0c0c0"/>
<rect x="1339" y="525" width="1" height="17" fill="#c0c0c0"/>
<rect x="1347" y="523" width="1" height="19" fill="#c0c0c0"/>
<rect x="1355" y="523" width="1" height="19" fill="#c0c0c0"/>
<rect x="1363" y="523" width="1" height="19" fill="#c0c0c0"/>
<rect x="1371" y="522" width="1" height="20" fill="#c0c0c0"/>
<rect x="1379" y="519" width="1" height="23" fill="#c0c0c0"/>
<rect x="1387" y="518" width="1" height="24" fill="#c0c0c0"/>
<rect x="1395" y="514" width="1" height="28" fill="#c0c0c0"/>
<polyline points="0.5,532.5 14.5,532.5 16.5,531.5 93.5,531.5 97.5,532.5 136.5,532.5 139.5,533.5 152.5,534.5 154.5,535.5 175.5,536.5 179.5,537.5 195.5,538.5 214.5,537.5 232.5,537.5 250.5,536.5 268.5,535.5 286.5,534.5 300.5,533.5 367.5,533.5 369.5,534.5 407.5,534.5 411.5,535.5 430.5,535.5 434.5,534.5 468.5,533.5 471.5,532.5 502.5,532.5 505.5,533.5 520.5,533.5 523.5,534.5 532.5,535.5 538.5,536.5 543.5,538.5 548.5,538.5 559.5,540.5 564.5,541.5 585.5,541.5 600.5,541.5 610.5,540.5 622.5,539.5 642.5,538.5 668.5,536.5 702.5,536.5 710.5,538.5 722.5,541.5 730.5,545.5 740.5,551.5 752.5,557.5 765.5,564.5 778.5,568.5 795.5,574.5 812.5,578.5 820.5,581.5 835.5,586.5 842.5,590.5 855.5,597.5 868.5,604.5 880.5,612.5 892.5,618.5 902.5,622.5 910.5,623.5 922.5,621.5 935.5,617.5 948.5,611.5 960.5,601.5 972.5,594.5 980.5,588.5 992.5,581.5 1005.5,574.5 1018.5,567.5 1030.5,560.5 1042.5,554.5 1052.5,546.5 1065.5,539.5 1080.5,534.5 1095.5,531.5 1110.5,530.5 1140.5,529.5 1160.5,528.5 1175.5,529.5 1200.5,530.5 1230.5,531.5 1235.5,532.5 1255.5,534.5 1275.5,534.5 1305.5,534.5 1315.5,533.5 1335.5,531.5 1348.5,528.5 1360.5,527.5 1375.5,525.5 1395.5,522.5" fill="none" stroke="#ff0000" stroke-width="1" stroke-dasharray="3 3"/>
<rect x="1634" y="541" width="2" height="1" fill="#000"/>
</g>
<text x="0" y="519" font-size="10" fill="#000" letter-spacing="-0.35">MACD(12,26,9) 684.92 506.19</text>
<text x="1637" y="517.5" font-size="10" fill="#000" letter-spacing="-0.45">832.97</text>
<text x="1637" y="545" font-size="10" fill="#000" letter-spacing="-0.45">0.00</text>
<text x="1637" y="636" font-size="10" fill="#000" letter-spacing="-0.45">-2424.13</text>
<g shape-rendering="crispEdges">
<line x1="2" y1="671.5" x2="1632" y2="671.5" stroke="#c0c0c0" stroke-width="1" stroke-dasharray="3 3"/>
<line x1="2" y1="715.5" x2="1632" y2="715.5" stroke="#c0c0c0" stroke-width="1" stroke-dasharray="3 3"/>
<line x1="2" y1="766.5" x2="1632" y2="766.5" stroke="#c0c0c0" stroke-width="1" stroke-dasharray="3 3"/>
<polyline points="-4.5,687.5 3.5,684.5 11.5,680.5 19.5,680.5 27.5,678.5 35.5,691.5 43.5,698.5 51.5,700.5 59.5,694.5 67.5,691.5 75.5,686.5 83.5,684.5 91.5,688.5 99.5,686.5 107.5,690.5 115.5,688.5 123.5,712.5 131.5,726.5 139.5,720.5 147.5,716.5 155.5,702.5 163.5,702.5 171.5,708.5 179.5,708.5 187.5,706.5 195.5,694.5 203.5,699.5 211.5,699.5 219.5,698.5 227.5,696.5 235.5,695.5 243.5,690.5 251.5,687.5 259.5,686.5 267.5,684.5 275.5,689.5 283.5,689.5 291.5,686.5 299.5,685.5 307.5,684.5 315.5,701.5 323.5,697.5 331.5,696.5 339.5,684.5 347.5,702.5 355.5,708.5 363.5,702.5 371.5,720.5 379.5,701.5 387.5,698.5 395.5,704.5 403.5,703.5 411.5,700.5 419.5,702.5 427.5,696.5 435.5,690.5 443.5,692.5 451.5,690.5 459.5,692.5 467.5,698.5 475.5,702.5 483.5,699.5 491.5,711.5 499.5,722.5 507.5,726.5 515.5,720.5 523.5,718.5 531.5,716.5 539.5,734.5 547.5,733.5 555.5,729.5 563.5,714.5 571.5,700.5 579.5,698.5 587.5,708.5 595.5,712.5 603.5,704.5 611.5,703.5 619.5,700.5 627.5,700.5 635.5,700.5 643.5,699.5 651.5,704.5 659.5,706.5 667.5,702.5 675.5,716.5 683.5,719.5 691.5,728.5 699.5,742.5 707.5,753.5 715.5,757.5 723.5,766.5 731.5,766.5 739.5,768.5 747.5,734.5 755.5,741.5 763.5,726.5 771.5,731.5 779.5,734.5 787.5,742.5 795.5,746.5 803.5,741.5 811.5,748.5 819.5,759.5 827.5,737.5 835.5,741.5 843.5,746.5 851.5,748.5 859.5,748.5 867.5,750.5 875.5,752.5 883.5,756.5 891.5,750.5 899.5,732.5 907.5,728.5 915.5,718.5 923.5,723.5 931.5,726.5 939.5,718.5 947.5,722.5 955.5,726.5 963.5,724.5 971.5,726.5 979.5,722.5 987.5,712.5 995.5,712.5 1003.5,706.5 1011.5,704.5 1019.5,708.5 1027.5,708.5 1035.5,704.5 1043.5,710.5 1051.5,704.5 1059.5,703.5 1067.5,704.5 1075.5,709.5 1083.5,715.5 1091.5,712.5 1099.5,712.5 1107.5,708.5 1115.5,709.5 1123.5,706.5 1131.5,704.5 1139.5,699.5 1147.5,708.5 1155.5,712.5 1163.5,717.5 1171.5,712.5 1179.5,710.5 1187.5,714.5 1195.5,709.5 1203.5,706.5 1211.5,703.5 1219.5,708.5 1227.5,718.5 1235.5,720.5 1243.5,716.5 1251.5,716.5 1259.5,714.5 1267.5,702.5 1275.5,708.5 1283.5,704.5 1291.5,704.5 1299.5,706.5 1307.5,704.5 1315.5,702.5 1323.5,698.5 1331.5,690.5 1339.5,696.5 1347.5,694.5 1355.5,699.5 1363.5,698.5 1371.5,692.5 1379.5,686.5 1387.5,688.5 1395.5,681.5" fill="none" stroke="#1e90ff" stroke-width="1"/>
</g>
<text x="0" y="654.5" font-size="10" fill="#000" letter-spacing="-0.42">RSI(14) 74.0533</text>
<text x="1637" y="652" font-size="10" fill="#000" letter-spacing="-0.45">100</text>
<text x="1637" y="675" font-size="10" fill="#000" letter-spacing="-0.45">80</text>
<text x="1637" y="719" font-size="10" fill="#000" letter-spacing="-0.45">50</text>
<text x="1637" y="770" font-size="10" fill="#000" letter-spacing="-0.45">15</text>
<text x="1637" y="785" font-size="10" fill="#000" letter-spacing="-0.45">0</text>
<g shape-rendering="crispEdges">
<rect x="59" y="789" width="1" height="3" fill="#000"/>
<rect x="123" y="789" width="1" height="3" fill="#000"/>
<rect x="187" y="789" width="1" height="3" fill="#000"/>
<rect x="251" y="789" width="1" height="3" fill="#000"/>
<rect x="315" y="789" width="1" height="3" fill="#000"/>
<rect x="379" y="789" width="1" height="3" fill="#000"/>
<rect x="443" y="789" width="1" height="3" fill="#000"/>
<rect x="507" y="789" width="1" height="3" fill="#000"/>
<rect x="571" y="789" width="1" height="3" fill="#000"/>
<rect x="635" y="789" width="1" height="3" fill="#000"/>
<rect x="699" y="789" width="1" height="3" fill="#000"/>
<rect x="763" y="789" width="1" height="3" fill="#000"/>
<rect x="827" y="789" width="1" height="3" fill="#000"/>
<rect x="891" y="789" width="1" height="3" fill="#000"/>
<rect x="955" y="789" width="1" height="3" fill="#000"/>
<rect x="1019" y="789" width="1" height="3" fill="#000"/>
<rect x="1083" y="789" width="1" height="3" fill="#000"/>
<rect x="1147" y="789" width="1" height="3" fill="#000"/>
<rect x="1211" y="789" width="1" height="3" fill="#000"/>
<rect x="1275" y="789" width="1" height="3" fill="#000"/>
<rect x="1339" y="789" width="1" height="3" fill="#000"/>
</g>
<text x="-6" y="801" font-size="10" fill="#000" letter-spacing="-0.3">13 Nov 2019</text>
<text x="58" y="801" font-size="10" fill="#000" letter-spacing="-0.3">22 Nov 2019</text>
<text x="122" y="801" font-size="10" fill="#000" letter-spacing="-0.3">2 Dec 2019</text>
<text x="186" y="801" font-size="10" fill="#000" letter-spacing="-0.3">11 Dec 2019</text>
<text x="250" y="801" font-size="10" fill="#000" letter-spacing="-0.3">20 Dec 2019</text>
<text x="314" y="801" font-size="10" fill="#000" letter-spacing="-0.3">30 Dec 2019</text>
<text x="378" y="801" font-size="10" fill="#000" letter-spacing="-0.3">8 Jan 2020</text>
<text x="442" y="801" font-size="10" fill="#000" letter-spacing="-0.3">17 Jan 2020</text>
<text x="506" y="801" font-size="10" fill="#000" letter-spacing="-0.3">27 Jan 2020</text>
<text x="570" y="801" font-size="10" fill="#000" letter-spacing="-0.3">5 Feb 2020</text>
<text x="634" y="801" font-size="10" fill="#000" letter-spacing="-0.3">14 Feb 2020</text>
<text x="698" y="801" font-size="10" fill="#000" letter-spacing="-0.3">24 Feb 2020</text>
<text x="762" y="801" font-size="10" fill="#000" letter-spacing="-0.3">4 Mar 2020</text>
<text x="826" y="801" font-size="10" fill="#000" letter-spacing="-0.3">13 Mar 2020</text>
<text x="890" y="801" font-size="10" fill="#000" letter-spacing="-0.3">23 Mar 2020</text>
<text x="954" y="801" font-size="10" fill="#000" letter-spacing="-0.3">1 Apr 2020</text>
<text x="1018" y="801" font-size="10" fill="#000" letter-spacing="-0.3">12 Apr 2020</text>
<text x="1082" y="801" font-size="10" fill="#000" letter-spacing="-0.3">21 Apr 2020</text>
<text x="1146" y="801" font-size="10" fill="#000" letter-spacing="-0.3">30 Apr 2020</text>
<text x="1210" y="801" font-size="10" fill="#000" letter-spacing="-0.3">10 May 2020</text>
<text x="1274" y="801" font-size="10" fill="#000" letter-spacing="-0.3">19 May 2020</text>
<text x="1338" y="801" font-size="10" fill="#000" letter-spacing="-0.3">28 May 2020</text>
<defs>
<linearGradient id="gTop" x1="0" y1="0" x2="0" y2="1"><stop offset="0" stop-color="#f94c4c"/><stop offset="1" stop-color="#e83c3c"/></linearGradient>
<linearGradient id="gBot" x1="0" y1="0" x2="0" y2="1"><stop offset="0" stop-color="#de3434"/><stop offset="0.5" stop-color="#c81a1a"/><stop offset="1" stop-color="#ad0000"/></linearGradient>
<linearGradient id="gBtn" x1="0" y1="0" x2="0" y2="1"><stop offset="0" stop-color="#f2f2f2"/><stop offset="0.45" stop-color="#ebebeb"/><stop offset="0.5" stop-color="#dddddd"/><stop offset="1" stop-color="#cfcfcf"/></linearGradient>
</defs>
<g shape-rendering="crispEdges">
<rect x="0" y="41" width="219" height="68" fill="#fff"/>
<rect x="-1" y="43" width="51" height="25" fill="url(#gTop)"/>
<rect x="165" y="43" width="52" height="25" fill="url(#gTop)"/>
<rect x="-1" y="67" width="108" height="40" fill="url(#gBot)"/>
<rect x="109" y="67" width="108" height="40" fill="url(#gBot)"/>
<path d="M-1.5,106.5V43.5H49.5V67.5H106.5V106.5Z" fill="none" stroke="#c01010" stroke-width="1"/>
<path d="M109.5,106.5V67.5H165.5V43.5H216.5V106.5Z" fill="none" stroke="#c01010" stroke-width="1"/>
<rect x="2" y="66" width="44" height="1" fill="#9a0000"/>
<rect x="2" y="67" width="44" height="1" fill="#f08080"/>
<rect x="169" y="66" width="44" height="1" fill="#9a0000"/>
<rect x="169" y="67" width="44" height="1" fill="#f08080"/>
<rect x="52" y="43" width="111" height="23" fill="#a9aeb8"/>
<rect x="53" y="44" width="109" height="21" fill="#fff"/>
<rect x="54" y="45" width="19" height="19" fill="url(#gBtn)"/>
<rect x="73" y="44" width="1" height="21" fill="#a9aeb8"/>
<rect x="142" y="45" width="19" height="19" fill="url(#gBtn)"/>
<rect x="141" y="44" width="1" height="21" fill="#a9aeb8"/>
</g>
<polygon points="60,52.5 66,52.5 63,55.5" fill="#3a55c8"/>
<polygon points="148.5,55.5 154.5,55.5 151.5,52.5" fill="#3a55c8"/>
<text x="138" y="58" font-size="12" fill="#000" letter-spacing="0" text-anchor="end">1.00</text>
<g transform="translate(10.5,59) scale(0.86,1)"><text x="0" y="0" font-size="12" fill="#fff">SELL</text></g>
<g transform="translate(178.5,59) scale(0.92,1)"><text x="0" y="0" font-size="12" fill="#fff">BUY</text></g>
<text x="14" y="97.6" font-size="12" fill="#fff" letter-spacing="0.1" font-weight="bold">27063</text>
<text x="124" y="97.6" font-size="12" fill="#fff" letter-spacing="0.1" font-weight="bold">27073</text>
<g transform="translate(52,97.6) scale(0.8,1)"><text x="0" y="0" font-size="35" fill="#fff">.5</text></g>
<g transform="translate(162.8,97.6) scale(0.8,1)"><text x="0" y="0" font-size="35" fill="#fff">.5</text></g>
</svg>
<svg width="1680" height="23" viewBox="0 0 1680 23" style="position:absolute;left:0;top:0" font-family="Liberation Sans, sans-serif">
<defs>
<linearGradient id="gGold" x1="0" y1="0" x2="1" y2="1"><stop offset="0" stop-color="#ffe24a"/><stop offset="0.55" stop-color="#ecbc1c"/><stop offset="1" stop-color="#c8900c"/></linearGradient>
<linearGradient id="gPlus" x1="0" y1="0" x2="0" y2="1"><stop offset="0" stop-color="#55ee55"/><stop offset="1" stop-color="#0a9a0a"/></linearGradient>
<linearGradient id="gBlue" x1="0" y1="0" x2="0" y2="1"><stop offset="0" stop-color="#6aa0f0"/><stop offset="1" stop-color="#1c4fc0"/></linearGradient>
<linearGradient id="gGrn" x1="0" y1="0" x2="0" y2="1"><stop offset="0" stop-color="#7cc84a"/><stop offset="1" stop-color="#2e8c1e"/></linearGradient>
<linearGradient id="gCloud" x1="0" y1="0" x2="0" y2="1"><stop offset="0" stop-color="#ffffff"/><stop offset="0.6" stop-color="#eef2f8"/><stop offset="1" stop-color="#b8c8e0"/></linearGradient>
<linearGradient id="gRadar" x1="0.2" y1="1" x2="0.8" y2="0"><stop offset="0" stop-color="#3aa04a"/><stop offset="0.5" stop-color="#8cc89a"/><stop offset="1" stop-color="#d8ead8"/></linearGradient>
<linearGradient id="gFace" x1="0" y1="0" x2="1" y2="1"><stop offset="0" stop-color="#fff07a"/><stop offset="1" stop-color="#f0b410"/></linearGradient>
<radialGradient id="gLens" cx="0.4" cy="0.35" r="0.7"><stop offset="0" stop-color="#ffffff"/><stop offset="1" stop-color="#b8dcf8"/></radialGradient>
</defs>
<rect x="0" y="0" width="1680" height="19" fill="#f0f0f0"/>
<rect x="0" y="19" width="1680" height="1" fill="#a0a0a0"/>
<rect x="0" y="20" width="1680" height="1" fill="#696969"/>
<rect x="0" y="21" width="1680" height="2" fill="#fff"/>
<rect x="269" y="0" width="25" height="17" fill="#f8f8f8"/>
<rect x="269" y="17" width="25" height="2" fill="#ffffff"/>
<rect x="421" y="0" width="24" height="17" fill="#f8f8f8"/>
<rect x="421" y="17" width="24" height="2" fill="#ffffff"/>
<rect x="449" y="0" width="24" height="17" fill="#f8f8f8"/>
<rect x="449" y="17" width="24" height="2" fill="#ffffff"/>
<rect x="609" y="0" width="25" height="17" fill="#f8f8f8"/>
<rect x="609" y="17" width="25" height="2" fill="#ffffff"/>
<rect x="1083" y="0" width="24" height="17" fill="#f8f8f8"/>
<rect x="1083" y="17" width="24" height="2" fill="#ffffff"/>
<rect x="230" y="0" width="1" height="17" fill="#a0a0a0"/>
<rect x="268" y="0" width="1" height="17" fill="#a0a0a0"/>
<rect x="325" y="0" width="1" height="17" fill="#a0a0a0"/>
<rect x="415" y="0" width="1" height="17" fill="#a0a0a0"/>
<rect x="420" y="0" width="1" height="17" fill="#a0a0a0"/>
<rect x="448" y="0" width="1" height="17" fill="#a0a0a0"/>
<rect x="477" y="0" width="1" height="17" fill="#a0a0a0"/>
<rect x="598" y="0" width="1" height="17" fill="#a0a0a0"/>
<rect x="608" y="0" width="1" height="17" fill="#a0a0a0"/>
<rect x="665" y="0" width="1" height="17" fill="#a0a0a0"/>
<rect x="904" y="0" width="1" height="17" fill="#a0a0a0"/>
<rect x="1082" y="0" width="1" height="17" fill="#a0a0a0"/>
<rect x="1165" y="0" width="1" height="17" fill="#a0a0a0"/>
<rect x="233" y="1" width="3" height="1" fill="#a8a8a8"/>
<rect x="233" y="3" width="3" height="1" fill="#a8a8a8"/>
<rect x="233" y="5" width="3" height="1" fill="#a8a8a8"/>
<rect x="233" y="7" width="3" height="1" fill="#a8a8a8"/>
<rect x="233" y="9" width="3" height="1" fill="#a8a8a8"/>
<rect x="233" y="11" width="3" height="1" fill="#a8a8a8"/>
<rect x="233" y="13" width="3" height="1" fill="#a8a8a8"/>
<rect x="233" y="15" width="3" height="1" fill="#a8a8a8"/>
<rect x="602" y="1" width="3" height="1" fill="#a8a8a8"/>
<rect x="602" y="3" width="3" height="1" fill="#a8a8a8"/>
<rect x="602" y="5" width="3" height="1" fill="#a8a8a8"/>
<rect x="602" y="7" width="3" height="1" fill="#a8a8a8"/>
<rect x="602" y="9" width="3" height="1" fill="#a8a8a8"/>
<rect x="602" y="11" width="3" height="1" fill="#a8a8a8"/>
<rect x="602" y="13" width="3" height="1" fill="#a8a8a8"/>
<rect x="602" y="15" width="3" height="1" fill="#a8a8a8"/>
<rect x="907" y="1" width="3" height="1" fill="#a8a8a8"/>
<rect x="907" y="3" width="3" height="1" fill="#a8a8a8"/>
<rect x="907" y="5" width="3" height="1" fill="#a8a8a8"/>
<rect x="907" y="7" width="3" height="1" fill="#a8a8a8"/>
<rect x="907" y="9" width="3" height="1" fill="#a8a8a8"/>
<rect x="907" y="11" width="3" height="1" fill="#a8a8a8"/>
<rect x="907" y="13" width="3" height="1" fill="#a8a8a8"/>
<rect x="907" y="15" width="3" height="1" fill="#a8a8a8"/>
<path d="M4.5,-1V12.5H15.5V3.5L12.5,0.5" fill="#fff" stroke="#8a8a8a" stroke-width="1"/>
<rect x="6" y="3" width="6" height="1" fill="#a0a0a0"/>
<rect x="6" y="5" width="6" height="1" fill="#a0a0a0"/>
<rect x="6" y="7" width="6" height="1" fill="#a0a0a0"/>
<path d="M12.5,5.5h4v3.8h3.8v4h-3.8v3.7h-4v-3.7h-3.8v-4h3.8z" fill="url(#gPlus)" stroke="#0a7a0a" stroke-width="0.6"/>
<text x="22.7" y="10" font-size="12" fill="#000" style="font-family:'Liberation Sans','Noto Sans CJK SC',sans-serif">新订单</text>
<text x="175.3" y="10" font-size="12" fill="#000" style="font-family:'Liberation Sans','Noto Sans CJK SC',sans-serif">自动交易</text>
<path d="M76.2,-1Q75.5,4 71.2,8.6L79,14.8L86.6,9.8L86.9,8.2z" fill="url(#gGold)" stroke="#9a6a08" stroke-width="0.9" stroke-linejoin="round"/>
<path d="M71.6,9L79,14.4L86.4,9.4L85.6,8.2L78.8,12.6L72.6,8z" fill="#e9d9a0" stroke="#a87a10" stroke-width="0.5"/>
<path d="M72.2,8.4L78.8,13.2" stroke="#f6dc78" stroke-width="1.1" fill="none"/>
<path d="M101.2,-1H112V8.5H101.2z" fill="#1a9af0"/><path d="M101.2,-1H104.4V8.5H101.2z" fill="#46b4ff"/><rect x="104.3" y="-1" width="0.8" height="9" fill="#d8f0ff"/>
<rect x="106" y="3" width="4.6" height="1.5" fill="#e8f8ff"/><rect x="106" y="5.8" width="4.6" height="0.9" fill="#8fd0ff"/>
<path d="M101.6,14.4a2.7,2.7 0 0 1 0.2,-5.3a3.6,3.6 0 0 1 6.4,-1.3a3.1,3.1 0 0 1 4.6,1.7a2.5,2.5 0 0 1 -0.3,4.9z" fill="url(#gCloud)" stroke="#3f5f9f" stroke-width="1"/>
<path d="M135.3,6.8L135.3,14.9A8.1,8.1 0 0 0 141,1.1z" fill="url(#gRadar)"/>
<circle cx="135.3" cy="6.8" r="3.3" fill="none" stroke="#d4dff2" stroke-width="0.8"/>
<circle cx="135.3" cy="6.8" r="3.3" fill="none" stroke="#7a9ee8" stroke-width="0.9" stroke-dasharray="7.3 13.5" stroke-dashoffset="-6.6" opacity="0.85"/>
<path d="M135.3,10.1A3.3,3.3 0 0 0 137.61,4.49" fill="none" stroke="#3f8f5f" stroke-width="0.9" opacity="0.75"/>
<circle cx="135.3" cy="6.8" r="5.7" fill="none" stroke="#d4dff2" stroke-width="0.8"/>
<circle cx="135.3" cy="6.8" r="5.7" fill="none" stroke="#7a9ee8" stroke-width="0.9" stroke-dasharray="12.5 23.4" stroke-dashoffset="-11.4" opacity="0.85"/>
<path d="M135.3,12.5A5.7,5.7 0 0 0 139.29,2.81" fill="none" stroke="#3f8f5f" stroke-width="0.9" opacity="0.75"/>
<circle cx="135.3" cy="6.8" r="8" fill="none" stroke="#d4dff2" stroke-width="0.8"/>
<circle cx="135.3" cy="6.8" r="8" fill="none" stroke="#7a9ee8" stroke-width="0.9" stroke-dasharray="17.6 32.8" stroke-dashoffset="-16.0" opacity="0.85"/>
<path d="M135.3,14.8A8,8 0 0 0 140.90,1.20" fill="none" stroke="#3f8f5f" stroke-width="0.9" opacity="0.75"/>
<circle cx="135.2" cy="6.6" r="1.9" fill="#2a5fd8"/><rect x="135" y="7.2" width="1.4" height="7.6" fill="#18a818"/>
<path d="M154.6,6.3L169.2,5.4L163,14.6L160.4,14.2z" fill="url(#gFace)" stroke="#d8a008" stroke-width="0.6" stroke-linejoin="round"/>
<ellipse cx="161.9" cy="3.6" rx="8" ry="2.7" fill="#4aa6de" stroke="#2f86c4" stroke-width="0.5"/>
<path d="M158.2,3.6Q160,1.5 160.6,-1H164Q164.4,1.5 166.2,3.6Q162,5 158.2,3.6z" fill="#6cc0ee"/>
<circle cx="166.4" cy="10.7" r="4.1" fill="#e02a10" stroke="#b81808" stroke-width="0.5"/><rect x="164.8" y="9.1" width="3.3" height="3.3" fill="#fff"/>
<path d="M248.5,2V15M245.5,12.5H258.5" stroke="#555" stroke-width="1" fill="none"/>
<path d="M246.5,4.2L248.5,1.2L250.5,4.2zM257,10.5L260,12.5L257,14.5z" fill="#555"/>
<path d="M254.5,2.5V10.5M252,9.5H254.5M254.5,3.5H257.5" stroke="#008000" stroke-width="1.1" fill="none"/>
<path d="M276.5,2V15M273.5,12.5H286.5" stroke="#555" stroke-width="1" fill="none"/>
<path d="M274.5,4.2L276.5,1.2L278.5,4.2zM285,10.5L288,12.5L285,14.5z" fill="#555"/>
<rect x="282" y="-1" width="1" height="12" fill="#008000"/><rect x="280.3" y="1.3" width="4.4" height="7.5" fill="#33ee55" stroke="#0a8a0a" stroke-width="0.8"/>
<path d="M304.5,2V15M301.5,12.5H314.5" stroke="#555" stroke-width="1" fill="none"/>
<path d="M302.5,4.2L304.5,1.2L306.5,4.2zM313,10.5L316,12.5L313,14.5z" fill="#555"/>
<path d="M303,9.8Q306.5,6.5 308.5,4.6T312,6.2T315.5,8.2" stroke="#2a9a2a" stroke-width="1.1" fill="none"/>
<line x1="343.5" y1="8.6" x2="349.0" y2="13.6" stroke="#c89a10" stroke-width="2.6" stroke-linecap="round"/>
<line x1="343.8" y1="8.3" x2="348.7" y2="12.8" stroke="#f0d050" stroke-width="1"/>
<circle cx="339.5" cy="4.6" r="5.4" fill="url(#gLens)" stroke="#3a7fd8" stroke-width="1.2"/>
<rect x="336.5" y="3.9" width="6" height="1.6" fill="#2a78a8"/>
<rect x="338.7" y="1.6" width="1.6" height="6" fill="#2a78a8"/>
<line x1="372" y1="8.6" x2="377.5" y2="13.6" stroke="#c89a10" stroke-width="2.6" stroke-linecap="round"/>
<line x1="372.3" y1="8.3" x2="377.2" y2="12.8" stroke="#f0d050" stroke-width="1"/>
<circle cx="368" cy="4.6" r="5.4" fill="url(#gLens)" stroke="#3a7fd8" stroke-width="1.2"/>
<rect x="365" y="3.9" width="6" height="1.6" fill="#2a78a8"/>
<rect x="390" y="-1" width="7.8" height="7.6" fill="url(#gGrn)"/>
<path d="M391.4,2h5v3.2h-1.2v-1.4h-2.6v1.4h-1.2z" fill="#f4f8ff" opacity="0.95"/>
<rect x="398.4" y="-1" width="7.8" height="7.6" fill="url(#gBlue)"/>
<path d="M399.79999999999995,2h5v3.2h-1.2v-1.4h-2.6v1.4h-1.2z" fill="#f4f8ff" opacity="0.95"/>
<rect x="390" y="7.2" width="7.8" height="7.6" fill="url(#gBlue)"/>
<path d="M391.4,10.2h5v3.2h-1.2v-1.4h-2.6v1.4h-1.2z" fill="#f4f8ff" opacity="0.95"/>
<rect x="398.4" y="7.2" width="7.8" height="7.6" fill="url(#gGrn)"/>
<path d="M399.79999999999995,10.2h5v3.2h-1.2v-1.4h-2.6v1.4h-1.2z" fill="#f4f8ff" opacity="0.95"/>
<path d="M428.5,2V15M425.5,12.5H438.5" stroke="#555" stroke-width="1" fill="none"/>
<path d="M426.5,4.2L428.5,1.2L430.5,4.2zM437,10.5L440,12.5L437,14.5z" fill="#555"/>
<polygon points="433.2,3 433.2,10 437.4,6.5" fill="#55e070" stroke="#0a9a2a" stroke-width="0.8"/>
<path d="M456.5,2V15M453.5,12.5H466.5" stroke="#555" stroke-width="1" fill="none"/>
<path d="M454.5,4.2L456.5,1.2L458.5,4.2zM465,10.5L468,12.5L465,14.5z" fill="#555"/>
<rect x="462" y="1" width="1.2" height="10" fill="#1a6a9a"/>
<path d="M463.6,6.5L466.3,4.4L465.9,6L468,6V7L465.9,7L466.3,8.6z" fill="#e04000" stroke="#e04000" stroke-width="0.4"/>
<path d="M487.5,-1V12.5H498.5V3.5L495.5,0.5" fill="#fff" stroke="#8a8a8a" stroke-width="1"/>
<rect x="489" y="3" width="6" height="1" fill="#a0a0a0"/>
<rect x="489" y="5" width="6" height="1" fill="#a0a0a0"/>
<rect x="489" y="7" width="6" height="1" fill="#a0a0a0"/>
<path d="M495.5,5.5h4v3.8h3.8v4h-3.8v3.7h-4v-3.7h-3.8v-4h3.8z" fill="url(#gPlus)" stroke="#0a7a0a" stroke-width="0.6"/>
<polygon points="508.8,6 514.4,6 511.6,9.4" fill="#000"/>
<circle cx="533" cy="6.6" r="7.2" fill="#fff" stroke="#1f6fd8" stroke-width="2.2"/>
<path d="M533,6.8V2.6M533,6.8H536.2" stroke="#333" stroke-width="1" fill="none"/>
<circle cx="533" cy="6.6" r="5.4" fill="none" stroke="#b0b8c8" stroke-width="0.8" stroke-dasharray="0.8 2"/>
<polygon points="547.8,6 553.4,6 550.5999999999999,9.4" fill="#000"/>
<rect x="564.5" y="-1" width="15.4" height="14.4" fill="#fff" stroke="#3a6fc8" stroke-width="1"/><rect x="565" y="-1" width="14.4" height="2.2" fill="#4a80d8"/><rect x="565" y="7.2" width="14.4" height="1" fill="#5a88d8"/>
<path d="M566.5,6L568.5,6L570.5,4.5L572.5,5.2L575,4.4L578,4.4" stroke="#a01800" stroke-width="1.1" fill="none"/>
<path d="M566.5,11L568.5,10L570.5,11.2L573,10L575.5,9L577.8,11.5" stroke="#109020" stroke-width="1.1" fill="none"/>
<polygon points="586.8,6 592.4,6 589.5999999999999,9.4" fill="#000"/>
<path d="M616,-1V11.2L618.8,8.6L621.2,13.8L623,13L620.6,7.8L624.2,7.4z" fill="#484848"/>
<path d="M648.5,0V6M648.5,9V15M641,7.5H647M650,7.5H656" stroke="#484848" stroke-width="1" fill="none"/>
<rect x="682" y="1" width="1" height="13" fill="#484848"/>
<rect x="705" y="7" width="12" height="1" fill="#484848"/>
<line x1="733" y1="13.6" x2="745" y2="2" stroke="#484848" stroke-width="1"/>
<path d="M759,8.5L767.5,0.5M764,13.5L773,5" stroke="#484848" stroke-width="0.9" fill="none"/>
<path d="M761,11L763.5,4M764.2,10L766.7,3M767.5,9L770,2M770.7,7L772,1" stroke="#484848" stroke-width="0.8" fill="none"/>
<text x="769.6" y="15.8" font-size="6.5" font-weight="bold" fill="#333">E</text>
<line x1="788" y1="0.5" x2="801" y2="0.5" stroke="#484848" stroke-width="1" stroke-dasharray="1 1"/>
<line x1="788" y1="3.5" x2="801" y2="3.5" stroke="#484848" stroke-width="1" stroke-dasharray="1 1"/>
<line x1="788" y1="7.5" x2="801" y2="7.5" stroke="#484848" stroke-width="1" stroke-dasharray="1 1"/>
<line x1="788" y1="11.5" x2="797" y2="11.5" stroke="#484848" stroke-width="1" stroke-dasharray="1 1"/>
<text x="797.8" y="15.8" font-size="6.5" font-weight="bold" fill="#333">F</text>
<text x="818.4" y="12" font-size="12.5" fill="#555">A</text>
<rect x="845.5" y="1.5" width="11" height="12" fill="none" stroke="#484848" stroke-width="1" stroke-dasharray="1 1"/>
<path d="M847,4.6H855M851,4.6V12" stroke="#484848" stroke-width="1.4" fill="none"/>
<path d="M844,-1h3v1.6h-3z" fill="#484848"/>
<path d="M872,4.6L875.6,1L879.2,4.6L875.6,5.6zM879,10.6L882.6,14L886.2,10.6L882.6,9.6z" fill="#484848"/>
<path d="M874.4,8.6L876.6,10.6L881,5.6" stroke="#484848" stroke-width="1.1" fill="none"/>
<polygon points="892.8,6 898.4,6 895.5999999999999,9.4" fill="#000"/>
<text x="919.5" y="11" font-size="9.7" fill="#333" letter-spacing="-0.3">M1</text>
<text x="947.3" y="11" font-size="9.7" fill="#333" letter-spacing="-0.3">M5</text>
<text x="973.7" y="11" font-size="9.7" fill="#333" letter-spacing="-0.3">M15</text>
<text x="1001.6" y="11" font-size="9.7" fill="#333" letter-spacing="-0.3">M30</text>
<text x="1033" y="11" font-size="9.7" fill="#333" letter-spacing="-0.3">H1</text>
<text x="1059.5" y="11" font-size="9.7" fill="#333" letter-spacing="-0.3">H4</text>
<text x="1088.7" y="11" font-size="9.7" fill="#333" letter-spacing="-0.3">D1</text>
<text x="1115.7" y="11" font-size="9.7" fill="#333" letter-spacing="-0.3">W1</text>
<text x="1143" y="11" font-size="9.7" fill="#333" letter-spacing="-0.3">MN</text>
<circle cx="1635.5" cy="3.5" r="3.6" fill="#f4f8ff" stroke="#2a6fd8" stroke-width="1.6"/><line x1="1632.6" y1="6.6" x2="1628.3" y2="11.3" stroke="#2a6fd8" stroke-width="2.2" stroke-linecap="round"/>
<ellipse cx="1668" cy="3.4" rx="6" ry="4.6" fill="#e9e9ee" stroke="#8f8f98" stroke-width="0.8"/><path d="M1670,7.4l2.4,2.6l-0.2,-3z" fill="#d8d8de" stroke="#8f8f98" stroke-width="0.5"/>
<ellipse cx="1660" cy="7.4" rx="5.2" ry="4" fill="#f6f6f8" stroke="#8f8f98" stroke-width="0.8"/><path d="M1657.6,10.8l-0.6,3l3,-2.6z" fill="#f0f0f4" stroke="#8f8f98" stroke-width="0.5"/>
</svg>
</body></html>
